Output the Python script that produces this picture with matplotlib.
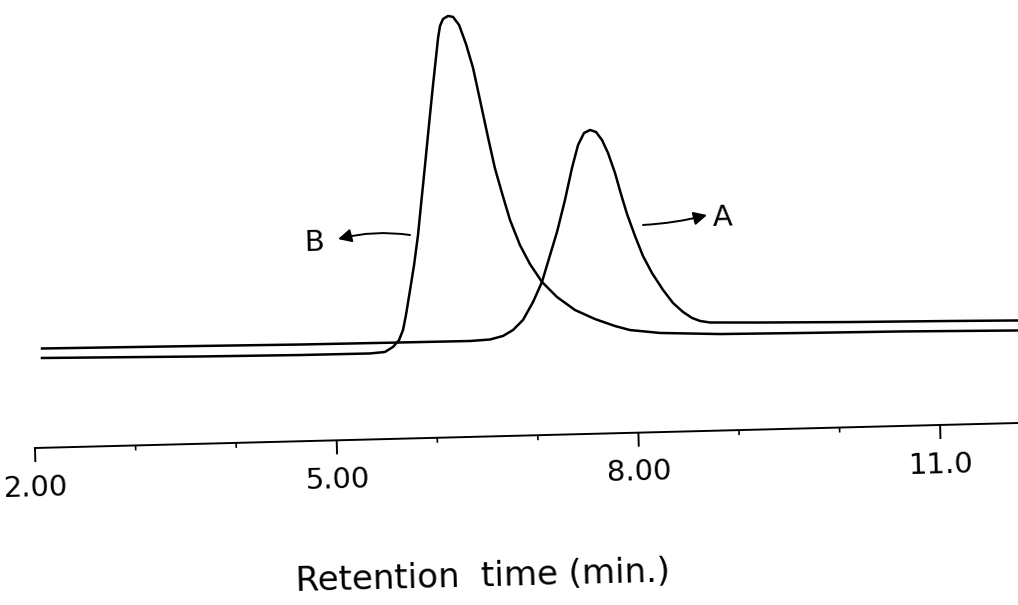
import matplotlib.pyplot as plt
from matplotlib.transforms import Affine2D

# chromatogram traces (time in min, detector response in arbitrary units)
time_a = [2.095, 3.665, 4.660, 5.654, 6.350, 6.549, 6.679, 6.780, 6.882, 6.986,
          7.080, 7.167, 7.242, 7.329, 7.407, 7.473, 7.535, 7.596, 7.655, 7.712,
          7.769, 7.833, 7.887, 7.942, 8.016, 8.090, 8.175, 8.281, 8.377, 8.474,
          8.562, 8.640, 8.739, 9.237, 10.130, 11.125, 11.801]
resp_a = [99.3, 97.8, 96.7, 96.2, 95.9, 96.9, 100.1, 105.8, 115.6, 133.3,
          153.1, 179.8, 202.7, 234.4, 266.3, 289.1, 300.9, 303.8, 301.6, 293.5,
          280.3, 260.2, 239.0, 218.9, 196.7, 176.5, 159.3, 142.0, 128.7, 119.5,
          113.3, 110.1, 108.3, 107.0, 105.2, 103.7, 102.5]

time_b = [2.092, 3.663, 4.657, 5.353, 5.502, 5.583, 5.645, 5.687, 5.720, 5.767,
          5.813, 5.860, 5.897, 5.935, 5.972, 6.009, 6.047, 6.084, 6.109, 6.131,
          6.163, 6.214, 6.263, 6.321, 6.385, 6.449, 6.510, 6.588, 6.641, 6.705,
          6.778, 6.870, 6.965, 7.080, 7.225, 7.401, 7.597, 7.794, 7.942, 8.240,
          8.836, 9.631, 10.625, 11.798]
resp_b = [89.8, 87.3, 86.2, 86.0, 87.1, 91.9, 98.7, 108.6, 123.5, 148.4,
          173.3, 203.2, 233.1, 263.0, 292.9, 322.9, 352.8, 380.7, 399.6, 411.6,
          418.5, 421.4, 420.3, 412.1, 392.9, 368.8, 336.6, 295.0, 268.0, 243.0,
          215.8, 190.6, 171.3, 153.1, 137.7, 124.2, 114.7, 107.2, 102.8, 99.1,
          96.5, 95.5, 94.5, 92.5]

major_ticks = [2, 5, 8, 11]
major_labels = ['2.00', '5.00', '8.00', '11.0']
minor_ticks = [3, 4, 6, 7, 9, 10]

tilt = 1.457  # the scanned page is slightly rotated

fig = plt.figure(figsize=(10.18, 6.05), dpi=100)
ax = fig.add_axes([0, 0, 1, 1])
ax.set_xlim(1.6521, 11.7714)
ax.set_ylim(-157, 448)
ax.axis('off')

px, py = ax.transData.transform((2, 0))
trans = ax.transData + Affine2D().rotate_deg_around(px, py, tilt)

ax.plot(time_a, resp_a, color='black', lw=1.8, transform=trans)
ax.plot(time_b, resp_b, color='black', lw=1.8, transform=trans)

# x axis drawn by hand, following the tilt
ax.plot([2, 11.9], [0, 0], color='black', lw=1.4, transform=trans)
ax.vlines(major_ticks, -14, 0, color='black', lw=1.4, transform=trans)
ax.vlines(minor_ticks, -5, 0, color='black', lw=1.2, transform=trans)
for t, lab in zip(major_ticks, major_labels):
    ax.text(t, -40, lab, ha='center', va='center', fontsize=21,
            rotation=tilt, transform=trans)
ax.text(6.42, -140, 'Retention  time (min.)', ha='center', va='center',
        fontsize=24.5, rotation=tilt, transform=trans)

# peak labels
ax.text(8.895, 213, 'A', ha='center', va='center', fontsize=21,
        rotation=tilt, transform=trans)
ax.text(4.824, 198, 'B', ha='center', va='center', fontsize=21,
        rotation=tilt, transform=trans)
arrow = dict(arrowstyle='-|>', color='black', lw=1.4, mutation_scale=20,
             shrinkA=0, shrinkB=0)
ax.annotate('', xy=(8.737, 215.8), xytext=(8.098, 207.5), xycoords=trans,
            textcoords=trans, arrowprops=dict(arrow, connectionstyle='arc3,rad=0.05'))
ax.annotate('', xy=(5.064, 201.2), xytext=(5.781, 203.4), xycoords=trans,
            textcoords=trans, arrowprops=dict(arrow, connectionstyle='arc3,rad=0.1'))

fig.savefig('out.png', dpi=100)
